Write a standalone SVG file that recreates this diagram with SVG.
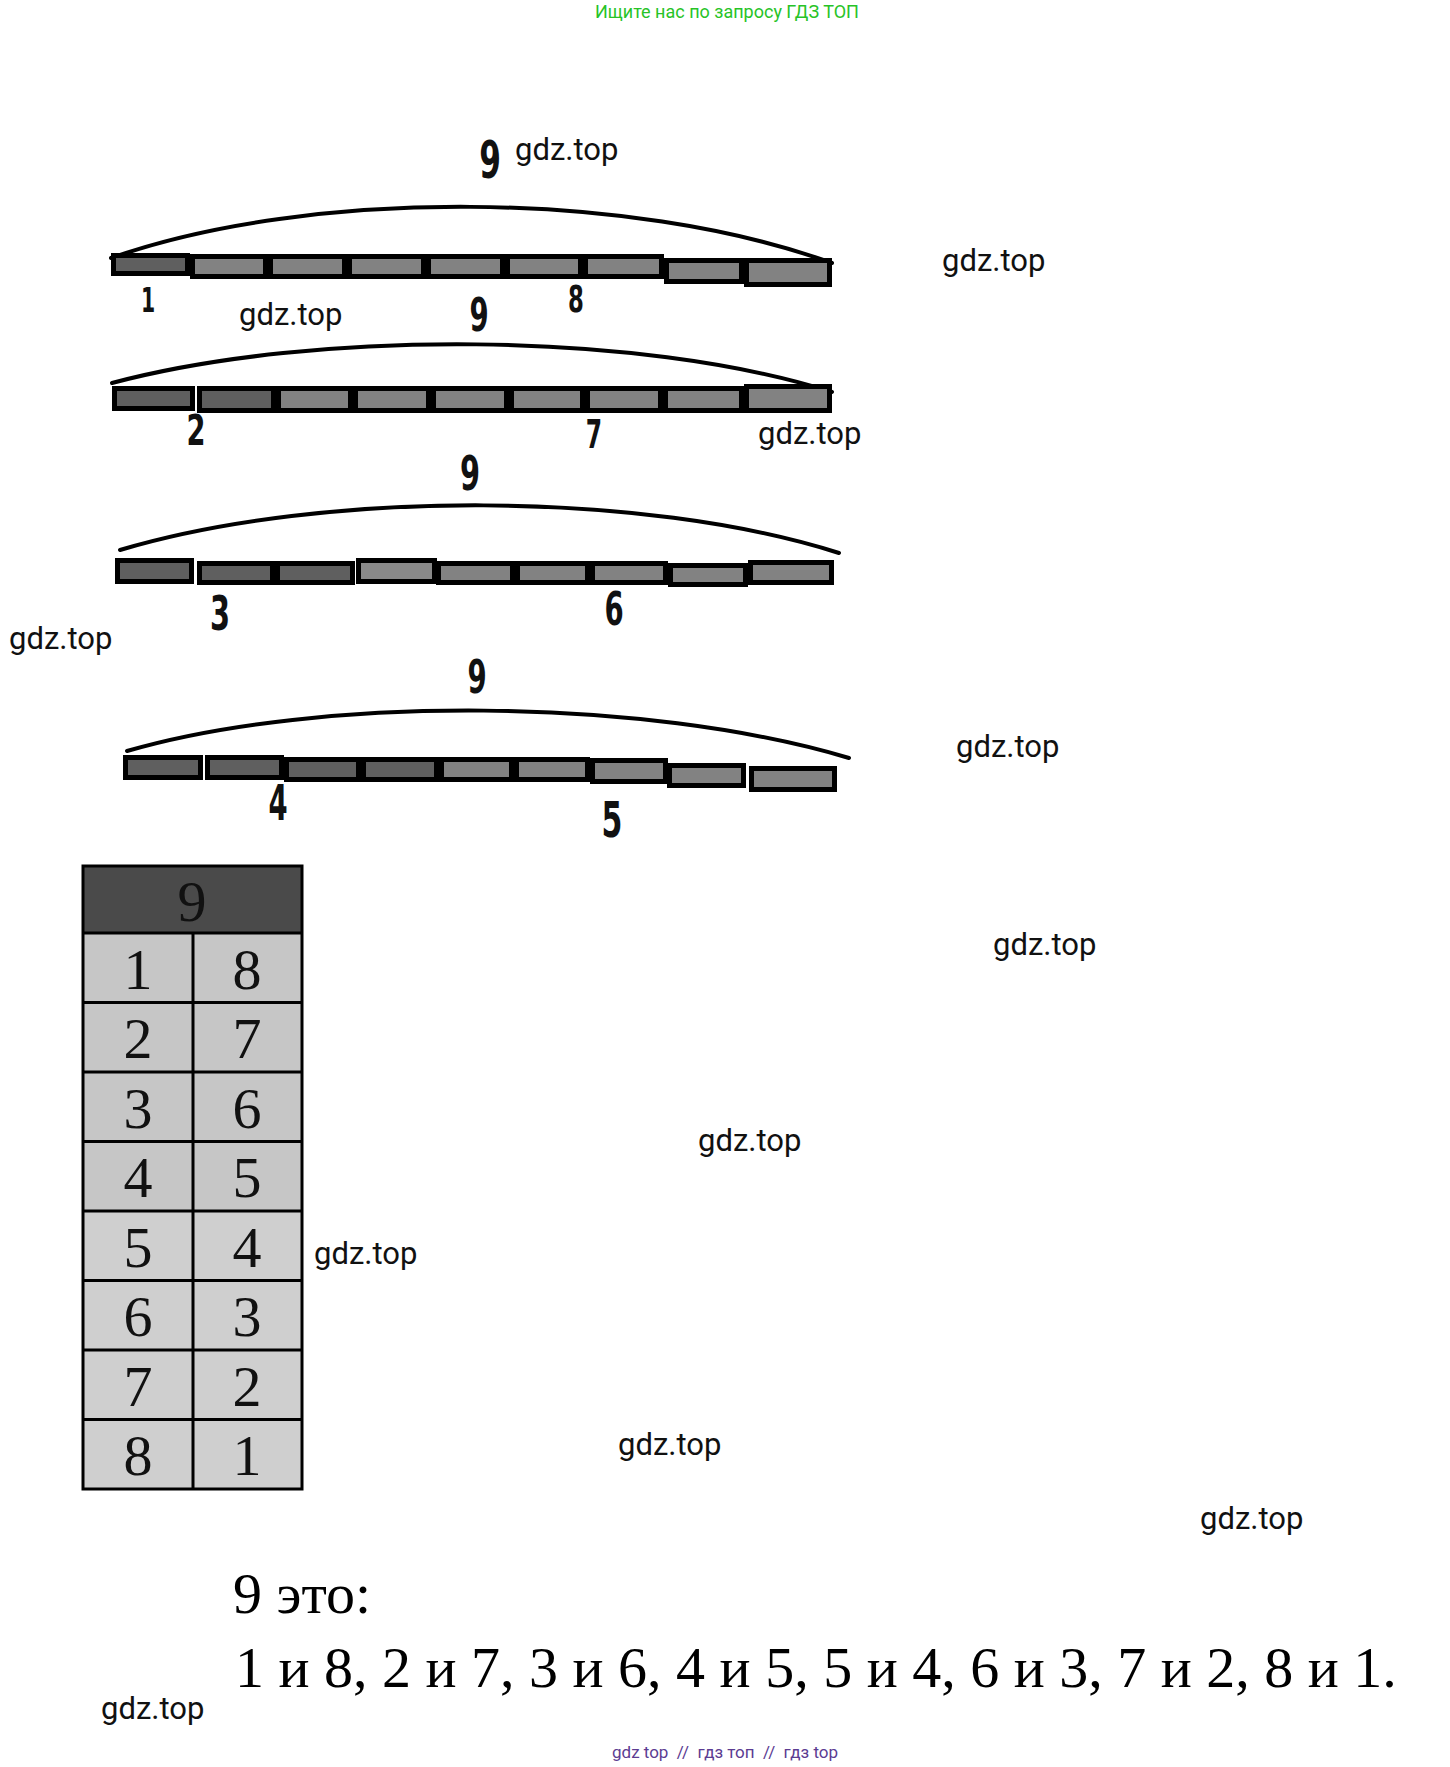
<svg xmlns="http://www.w3.org/2000/svg" width="1450" height="1767" viewBox="0 0 1450 1767">
<style>
.wm{font-family:Roboto,"Liberation Sans",sans-serif;font-size:31px;fill:#111}
.hd{font-family:"DejaVu Sans","Liberation Sans",sans-serif;font-weight:bold;fill:#111;text-anchor:middle}
.c{stroke:#000;stroke-width:5}
.d{fill:#5f5f5f}
.l{fill:#828282}
.m{fill:#898989}
.arc{fill:none;stroke:#000;stroke-width:4;stroke-linecap:round}
.tn{font-family:"Liberation Serif","Times New Roman",serif;font-size:58px;fill:#111;text-anchor:middle}
.bt{font-family:"Liberation Serif","Times New Roman",serif;font-size:58px;fill:#000}
</style>
<rect width="1450" height="1767" fill="#fff"/>
<text x="595" y="18" font-family="Roboto,'Liberation Sans',sans-serif" font-size="18" fill="#27c327">Ищите нас по запросу ГДЗ ТОП</text>

<g id="connectors">
<path class="arc" d="M111,258 C310,188 630,190 832,263"/>
<path class="arc" d="M112,383 C315,329 640,331 832,392"/>
<path class="arc" d="M120,550 C325,489 645,491 839,553"/>
<path class="arc" d="M127,751 C320,695 645,697 849,758"/>
</g>

<g id="bar1">
<rect class="c d" x="113.5" y="255.5" width="74" height="18"/>
<rect class="c l" x="192.5" y="256.5" width="73" height="20"/>
<rect class="c l" x="270.5" y="256.5" width="74" height="20"/>
<rect class="c l" x="349.5" y="256.5" width="74" height="20"/>
<rect class="c l" x="428.5" y="256.5" width="74" height="20"/>
<rect class="c l" x="507.5" y="256.5" width="73" height="20"/>
<rect class="c l" x="585.5" y="256.5" width="76" height="20"/>
<rect class="c l" x="666.5" y="260.5" width="75" height="21"/>
<rect class="c l" x="746.5" y="260.5" width="83" height="24"/>
</g>
<g id="bar2">
<rect class="c d" x="114.5" y="388.5" width="78" height="20"/>
<rect class="c d" x="199.5" y="388.5" width="74" height="22"/>
<rect class="c l" x="278.5" y="388.5" width="72" height="22"/>
<rect class="c l" x="355.5" y="388.5" width="73" height="22"/>
<rect class="c l" x="433.5" y="388.5" width="73" height="22"/>
<rect class="c l" x="511.5" y="388.5" width="71" height="22"/>
<rect class="c l" x="587.5" y="388.5" width="73" height="22"/>
<rect class="c l" x="665.5" y="388.5" width="76" height="22"/>
<rect class="c l" x="746.5" y="386.5" width="83" height="24"/>
</g>
<g id="bar3">
<rect class="c d" x="117.5" y="560.5" width="74" height="21"/>
<rect class="c d" x="199.5" y="563.5" width="73" height="19"/>
<rect class="c d" x="277.5" y="563.5" width="75" height="19"/>
<rect class="c m" x="358.5" y="560.5" width="76" height="21"/>
<rect class="c l" x="438.5" y="563.5" width="74" height="19"/>
<rect class="c l" x="517.5" y="563.5" width="70" height="19"/>
<rect class="c l" x="592.5" y="563.5" width="73" height="19"/>
<rect class="c l" x="670.5" y="565.5" width="75" height="19"/>
<rect class="c l" x="750.5" y="562.5" width="81" height="20"/>
</g>
<g id="bar4">
<rect class="c d" x="125.5" y="757.5" width="75" height="20"/>
<rect class="c d" x="207.5" y="757.5" width="74" height="20"/>
<rect class="c d" x="286.5" y="759.5" width="72" height="20"/>
<rect class="c d" x="363.5" y="759.5" width="73" height="20"/>
<rect class="c l" x="441.5" y="759.5" width="70" height="20"/>
<rect class="c l" x="516.5" y="759.5" width="71" height="20"/>
<rect class="c l" x="592.5" y="760.5" width="73" height="21"/>
<rect class="c l" x="669.5" y="765.5" width="74" height="20"/>
<rect class="c l" x="751.5" y="768.5" width="83" height="21"/>
</g>

<g id="labels">
<text class="hd" transform="translate(490,178) scale(0.6,1)" font-size="52">9</text>
<text class="hd" transform="translate(148,312) scale(0.6,1)" font-size="34">1</text>
<text class="hd" transform="translate(576,312) scale(0.6,1)" font-size="38">8</text>
<text class="hd" transform="translate(479,331) scale(0.6,1)" font-size="46">9</text>
<text class="hd" transform="translate(196,445) scale(0.65,1)" font-size="42">2</text>
<text class="hd" transform="translate(594,448) scale(0.6,1)" font-size="39">7</text>
<text class="hd" transform="translate(470,490) scale(0.6,1)" font-size="48">9</text>
<text class="hd" transform="translate(220,630) scale(0.6,1)" font-size="48">3</text>
<text class="hd" transform="translate(614,625) scale(0.6,1)" font-size="46">6</text>
<text class="hd" transform="translate(477,693) scale(0.6,1)" font-size="46">9</text>
<text class="hd" transform="translate(278,820) scale(0.55,1)" font-size="50">4</text>
<text class="hd" transform="translate(612,837) scale(0.6,1)" font-size="50">5</text>
</g>

<g id="table">
<rect x="83" y="866" width="219" height="67" fill="#4a4a4a"/>
<rect x="83" y="933" width="219" height="278" fill="#c6c6c6"/>
<rect x="83" y="1211" width="219" height="278" fill="#cfcfcf"/>
<g stroke="#000" stroke-width="3" fill="none">
<rect x="83" y="866" width="219" height="623"/>
<line x1="83" y1="933" x2="302" y2="933"/>
<line x1="83" y1="1002.5" x2="302" y2="1002.5"/>
<line x1="83" y1="1072" x2="302" y2="1072"/>
<line x1="83" y1="1141.5" x2="302" y2="1141.5"/>
<line x1="83" y1="1211" x2="302" y2="1211"/>
<line x1="83" y1="1280.5" x2="302" y2="1280.5"/>
<line x1="83" y1="1350" x2="302" y2="1350"/>
<line x1="83" y1="1419.5" x2="302" y2="1419.5"/>
<line x1="193" y1="933" x2="193" y2="1489"/>
</g>
<text class="tn" x="192" y="921" font-size="56">9</text>
<text class="tn" x="138" y="989">1</text><text class="tn" x="247" y="989">8</text>
<text class="tn" x="138" y="1058">2</text><text class="tn" x="247" y="1058">7</text>
<text class="tn" x="138" y="1128">3</text><text class="tn" x="247" y="1128">6</text>
<text class="tn" x="138" y="1197">4</text><text class="tn" x="247" y="1197">5</text>
<text class="tn" x="138" y="1267">5</text><text class="tn" x="247" y="1267">4</text>
<text class="tn" x="138" y="1336">6</text><text class="tn" x="247" y="1336">3</text>
<text class="tn" x="138" y="1406">7</text><text class="tn" x="247" y="1406">2</text>
<text class="tn" x="138" y="1475">8</text><text class="tn" x="247" y="1475">1</text>
</g>

<g id="answer">
<text class="bt" x="233" y="1613">9 это:</text>
<text class="bt" x="235" y="1687">1 и 8, 2 и 7, 3 и 6, 4 и 5, 5 и 4, 6 и 3, 7 и 2, 8 и 1.</text>
</g>

<g id="watermarks">
<text class="wm" x="515" y="160">gdz.top</text>
<text class="wm" x="942" y="271">gdz.top</text>
<text class="wm" x="239" y="325">gdz.top</text>
<text class="wm" x="758" y="444">gdz.top</text>
<text class="wm" x="9" y="649">gdz.top</text>
<text class="wm" x="956" y="757">gdz.top</text>
<text class="wm" x="993" y="955">gdz.top</text>
<text class="wm" x="698" y="1151">gdz.top</text>
<text class="wm" x="314" y="1264">gdz.top</text>
<text class="wm" x="618" y="1455">gdz.top</text>
<text class="wm" x="1200" y="1529">gdz.top</text>
<text class="wm" x="101" y="1719">gdz.top</text>
</g>
<text x="612" y="1758" xml:space="preserve" font-family="Roboto,'Liberation Sans',sans-serif" font-size="17" fill="#5c3c92">gdz top  //  гдз топ  //  гдз top</text>
</svg>
